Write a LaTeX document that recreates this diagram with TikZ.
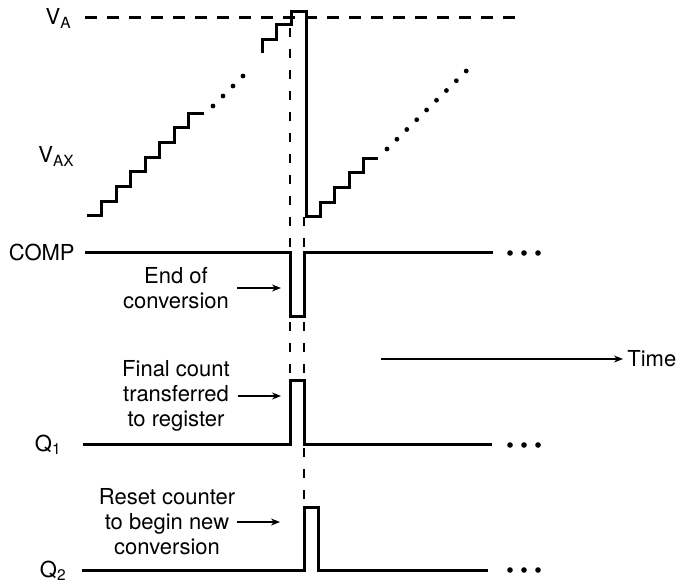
\documentclass[tikz,border=0pt]{standalone}
\usepackage{fontspec}
\setmainfont{TeX Gyre Heros}
\usetikzlibrary{arrows.meta}
\tikzset{
  wave/.style={line width=1.5pt, line join=miter},
  guide/.style={line width=0.7pt, dash pattern=on 4.5pt off 6pt},
  level/.style={line width=1.5pt, dash pattern=on 6pt off 5pt},
  ptr/.style={line width=0.6pt, -{Stealth[length=4.5pt,width=3.5pt]}},
  lbl/.style={anchor=base east, inner sep=0pt, font=\fontsize{11}{12.5}\selectfont},
  note/.style={align=center, inner sep=0pt, font=\fontsize{11}{12.5}\selectfont},
}
\begin{document}
\begin{tikzpicture}[x=0.5pt, y=-0.5pt]
\useasboundingbox (0,0) rectangle (683,582);
% reference level and timing guides
\draw[level] (85,18) -- (522,18);
\draw[guide] (290,28) -- (290,380);
\draw[guide] (304,217) -- (304,507);
% staircase V_AX
\draw[wave] (87,216) foreach \i in {1,...,7} {-- ++(14.5,0) -- ++(0,-14.7)} -- ++(15,0);
\foreach \i in {0,...,3} \fill (213+10*\i,106-10*\i) circle (1.2pt);
\draw[wave] (262,53) -- (262,40) -- (276,40) -- (276,25) -- (291,25) -- (291,12)
  -- (306,12) -- (306,217) -- (320,217) foreach \i in {1,...,4} {-- ++(0,-14.7) -- ++(14.5,0)};
\foreach \i in {0,...,8} \fill (387+9.9*\i,149-9.75*\i) circle (1.2pt);
% COMP, Q1, Q2
\draw[wave] (85,252) -- (290,252) -- (290,316) -- (304,316) -- (304,252) -- (493,252);
\draw[wave] (83,444) -- (290,444) -- (290,380) -- (304,380) -- (304,444) -- (492,444);
\draw[wave] (82,570) -- (304,570) -- (304,507) -- (318,507) -- (318,570) -- (488,570);
\foreach \y in {253,445,570}
  \foreach \x in {510,524,538} \fill (\x,\y) circle (1.4pt);
% signal names
\node[lbl] (va) at (72,25) {V\textsubscript{A}};
\node[lbl] (vax) at (75,163) {V\textsubscript{AX}};
\node[lbl] (comp) at (75,260) {COMP};
\node[lbl] (q1) at (62,451) {Q\textsubscript{1}};
\node[lbl] (q2) at (67,577) {Q\textsubscript{2}};
% notes
\node[note] (eoc) at (176,288) {End of\\conversion};
\node[note] (fct) at (176,396) {Final count\\transferred\\to register};
\node[note] (rst) at (167,522) {Reset counter\\to begin new\\conversion};
\coordinate (eoctip) at (281,289);
\coordinate (fcttip) at (281,399);
\coordinate (rsttip) at (280,525);
\draw[ptr, shorten <=4pt] (eoc.east) -- (eoc.east -| eoctip);
\draw[ptr, shorten <=4pt] (fct.east) -- (fct.east -| fcttip);
\draw[ptr, shorten <=1pt] (rst.east) -- (rst.east -| rsttip);
% time axis
\node[note, anchor=west] (time) at (627,359) {Time};
\coordinate (tstart) at (381,359);
\draw[ptr, shorten >=2pt] (tstart) -- (time.west);
\end{tikzpicture}
\end{document}
